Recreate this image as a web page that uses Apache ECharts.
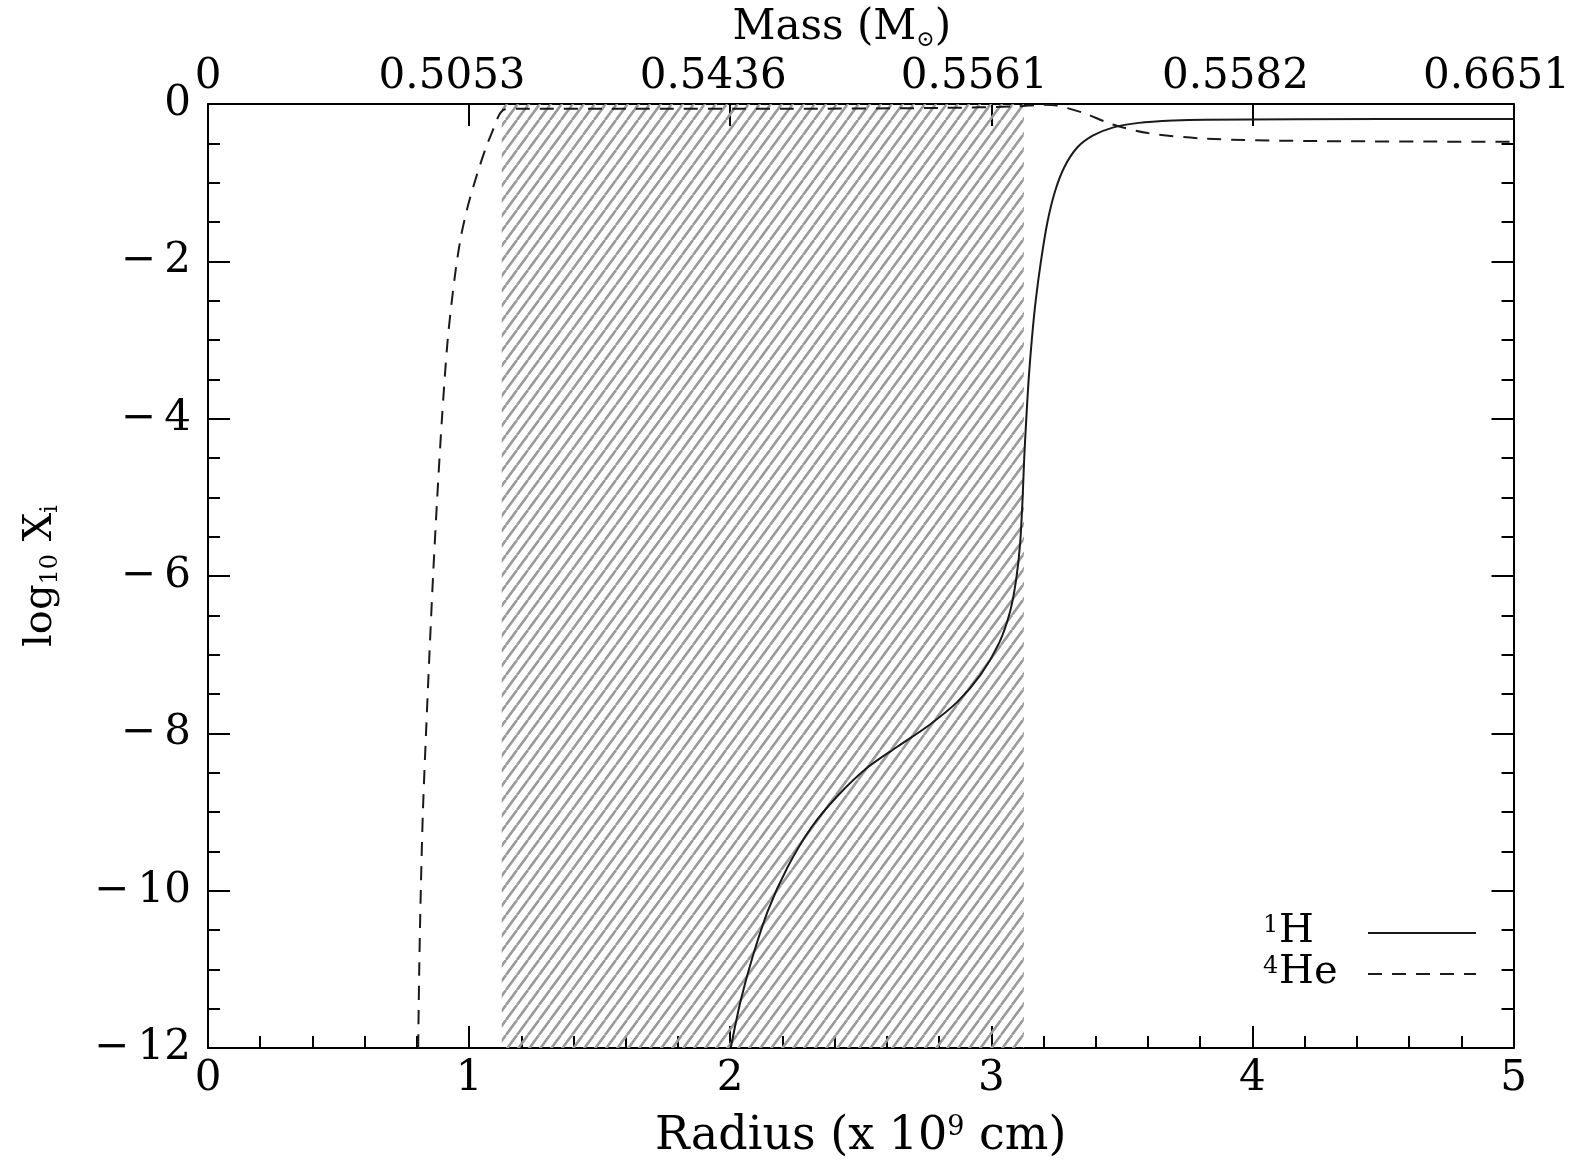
<!DOCTYPE html>
<html><head><meta charset="utf-8">
<script src="https://cdn.jsdelivr.net/npm/echarts@6/dist/echarts.min.js"></script>
<style>html,body{margin:0;padding:0;background:#fff}#c{width:1590px;height:1165px}</style>
</head><body><div id="c"></div>
<script>
// ---- data ----
const radiusTicks = [0, 1, 2, 3, 4, 5];
const massLabels = ['0', '0.5053', '0.5436', '0.5561', '0.5582', '0.6651'];
const hatchRange = [1.125, 3.125];

const hRadius = [2.002, 2.04, 2.085, 2.145, 2.22, 2.31, 2.41, 2.52, 2.64, 2.76, 2.87, 2.96, 3.03, 3.072, 3.095, 3.11, 3.12, 3.126, 3.134, 3.143, 3.155, 3.17, 3.19, 3.215, 3.245, 3.28, 3.33, 3.39, 3.465, 3.565, 3.7, 3.82, 4.5, 5.0];
const hLogX   = [-12, -11.4, -10.85, -10.25, -9.7, -9.2, -8.8, -8.45, -8.17, -7.9, -7.6, -7.25, -6.85, -6.45, -6.05, -5.6, -5.0, -4.5, -4.0, -3.5, -3.0, -2.5, -2.0, -1.5, -1.1, -0.8, -0.55, -0.4, -0.3, -0.24, -0.21, -0.2, -0.19, -0.19];

const heRadius = [0.805, 0.809, 0.815, 0.823, 0.835, 0.848, 0.862, 0.878, 0.896, 0.918, 0.945, 0.968, 0.995, 1.03, 1.065, 1.095, 1.115, 1.135, 1.2, 1.6, 2.2, 2.8, 3.1, 3.2, 3.25, 3.35, 3.465, 3.6, 3.82, 4.2, 5.0];
const heLogX   = [-12, -11, -10, -9, -8, -7, -6, -5, -4, -3, -2.2, -1.7, -1.3, -0.9, -0.55, -0.3, -0.14, -0.07, -0.06, -0.06, -0.06, -0.05, -0.03, -0.01, -0.02, -0.11, -0.26, -0.37, -0.44, -0.47, -0.48];

// ---- style ----
const FONT = 'DejaVu Serif';
function hatchPattern() {
  const w = 11, h = 15;
  const c = document.createElement('canvas');
  c.width = w; c.height = h;
  const g = c.getContext('2d');
  g.strokeStyle = '#9a9a9a';
  g.lineWidth = 2.6;
  g.beginPath();
  for (const dx of [-w, 0, w]) { g.moveTo(dx, h); g.lineTo(dx + w, 0); }
  g.stroke();
  return c;
}
const axisLine = { show: true, onZero: false, lineStyle: { color: '#000', width: 2 } };
const majTick = { show: true, inside: true, length: 22, lineStyle: { color: '#000', width: 2 } };
const labelStyle = { fontFamily: FONT, fontSize: 42, color: '#000' };
const minus = v => (v < 0 ? '\u2212\u2009' + (-v) : String(v));

const chart = echarts.init(document.getElementById('c'), null, { renderer: 'canvas' });
chart.setOption({
  animation: false,
  backgroundColor: '#fff',
  grid: { left: 208, right: 66, top: 104, bottom: 112, containLabel: false },
  legend: {
    orient: 'vertical', left: 1258, top: 907, align: 'right',
    itemWidth: 108, itemHeight: 20, itemGap: 1, selectedMode: false,
    data: ['H', 'He'],
    itemStyle: { color: 'rgba(0,0,0,0)', borderColor: 'rgba(0,0,0,0)', borderWidth: 0, opacity: 0 },
    formatter: n => (n === 'H' ? '{sup|1}{n|H}' : '{sup|4}{n|He}'),
    textStyle: {
      rich: {
        n: { fontFamily: FONT, fontSize: 40, lineHeight: 38, verticalAlign: 'bottom', color: '#000', width: 84, align: 'left' },
        sup: { fontFamily: FONT, fontSize: 24, lineHeight: 24, verticalAlign: 'top', color: '#000', width: 16, align: 'left' }
      }
    }
  },
  xAxis: [
    {
      type: 'value', min: 0, max: 5, interval: 1, position: 'bottom',
      axisLine, axisTick: majTick,
      minorTick: { show: true, splitNumber: 5, length: 12, lineStyle: { color: '#000', width: 2 } },
      splitLine: { show: false }, minorSplitLine: { show: false },
      axisLabel: Object.assign({ margin: 10 }, labelStyle),
      name: '{n|Radius (x 10}{sup|9}{n| cm)}', nameLocation: 'middle', nameGap: 66,
      nameTextStyle: {
        rich: {
          n: { fontFamily: FONT, fontSize: 46, lineHeight: 46, verticalAlign: 'bottom', color: '#000' },
          sup: { fontFamily: FONT, fontSize: 27, lineHeight: 26, verticalAlign: 'top', color: '#000' }
        }
      }
    },
    {
      type: 'value', min: 0, max: 5, interval: 1, position: 'top',
      axisLine, axisTick: majTick, minorTick: { show: false },
      splitLine: { show: false },
      axisLabel: {
        margin: 6,
        formatter: v => {
          const s = massLabels[radiusTicks.indexOf(v)];
          return s.length > 1 ? '{v|' + s + '}{p|}' : '{v|' + s + '}';
        },
        rich: {
          v: { fontFamily: FONT, fontSize: 42, color: '#000' },
          p: { width: 34 }
        }
      },
      name: '{n|Mass (M}{sub|\u2299}{n|)}', nameLocation: 'middle', nameGap: 46,
      nameTextStyle: {
        padding: [0, 38, 0, 0],
        rich: {
          n: { fontFamily: FONT, fontSize: 42, lineHeight: 44, verticalAlign: 'top', color: '#000' },
          sub: { fontFamily: FONT, fontSize: 22, lineHeight: 14, verticalAlign: 'bottom', color: '#000' }
        }
      }
    }
  ],
  yAxis: [
    {
      type: 'value', min: -12, max: 0, interval: 2, position: 'left',
      axisLine, axisTick: majTick,
      minorTick: { show: true, splitNumber: 4, length: 12, lineStyle: { color: '#000', width: 2 } },
      splitLine: { show: false }, minorSplitLine: { show: false },
      axisLabel: Object.assign({ margin: 17, formatter: minus }, labelStyle),
      name: '{n|log}{sub|10}{n| X}{sub|i}', nameLocation: 'middle', nameGap: 145, nameRotate: 90,
      nameTextStyle: {
        rich: {
          n: { fontFamily: FONT, fontSize: 40, lineHeight: 42, verticalAlign: 'top', color: '#000' },
          sub: { fontFamily: FONT, fontSize: 24, lineHeight: 14, verticalAlign: 'bottom', color: '#000' }
        }
      }
    },
    {
      type: 'value', min: -12, max: 0, interval: 2, position: 'right',
      axisLine, axisTick: majTick,
      minorTick: { show: true, splitNumber: 4, length: 12, lineStyle: { color: '#000', width: 2 } },
      splitLine: { show: false }, axisLabel: { show: false }
    }
  ],
  series: [
    {
      name: 'H', type: 'line', xAxisIndex: 0, yAxisIndex: 0,
      data: hRadius.map((r, i) => [r, hLogX[i]]),
      symbol: 'none', showSymbol: false, smooth: 0.3,
      lineStyle: { color: '#1a1a1a', width: 2 },
      itemStyle: { color: '#1a1a1a' },
      markArea: {
        silent: true,
        itemStyle: { color: { image: hatchPattern(), repeat: 'repeat' } },
        data: [[{ xAxis: hatchRange[0] }, { xAxis: hatchRange[1] }]]
      },
      z: 3
    },
    {
      name: 'He', type: 'line', xAxisIndex: 0, yAxisIndex: 0,
      data: heRadius.map((r, i) => [r, heLogX[i]]),
      symbol: 'none', showSymbol: false, smooth: 0.3,
      lineStyle: { color: '#1a1a1a', width: 2, type: [14, 10] },
      itemStyle: { color: '#1a1a1a' },
      z: 3
    }
  ]
});
</script></body></html>
